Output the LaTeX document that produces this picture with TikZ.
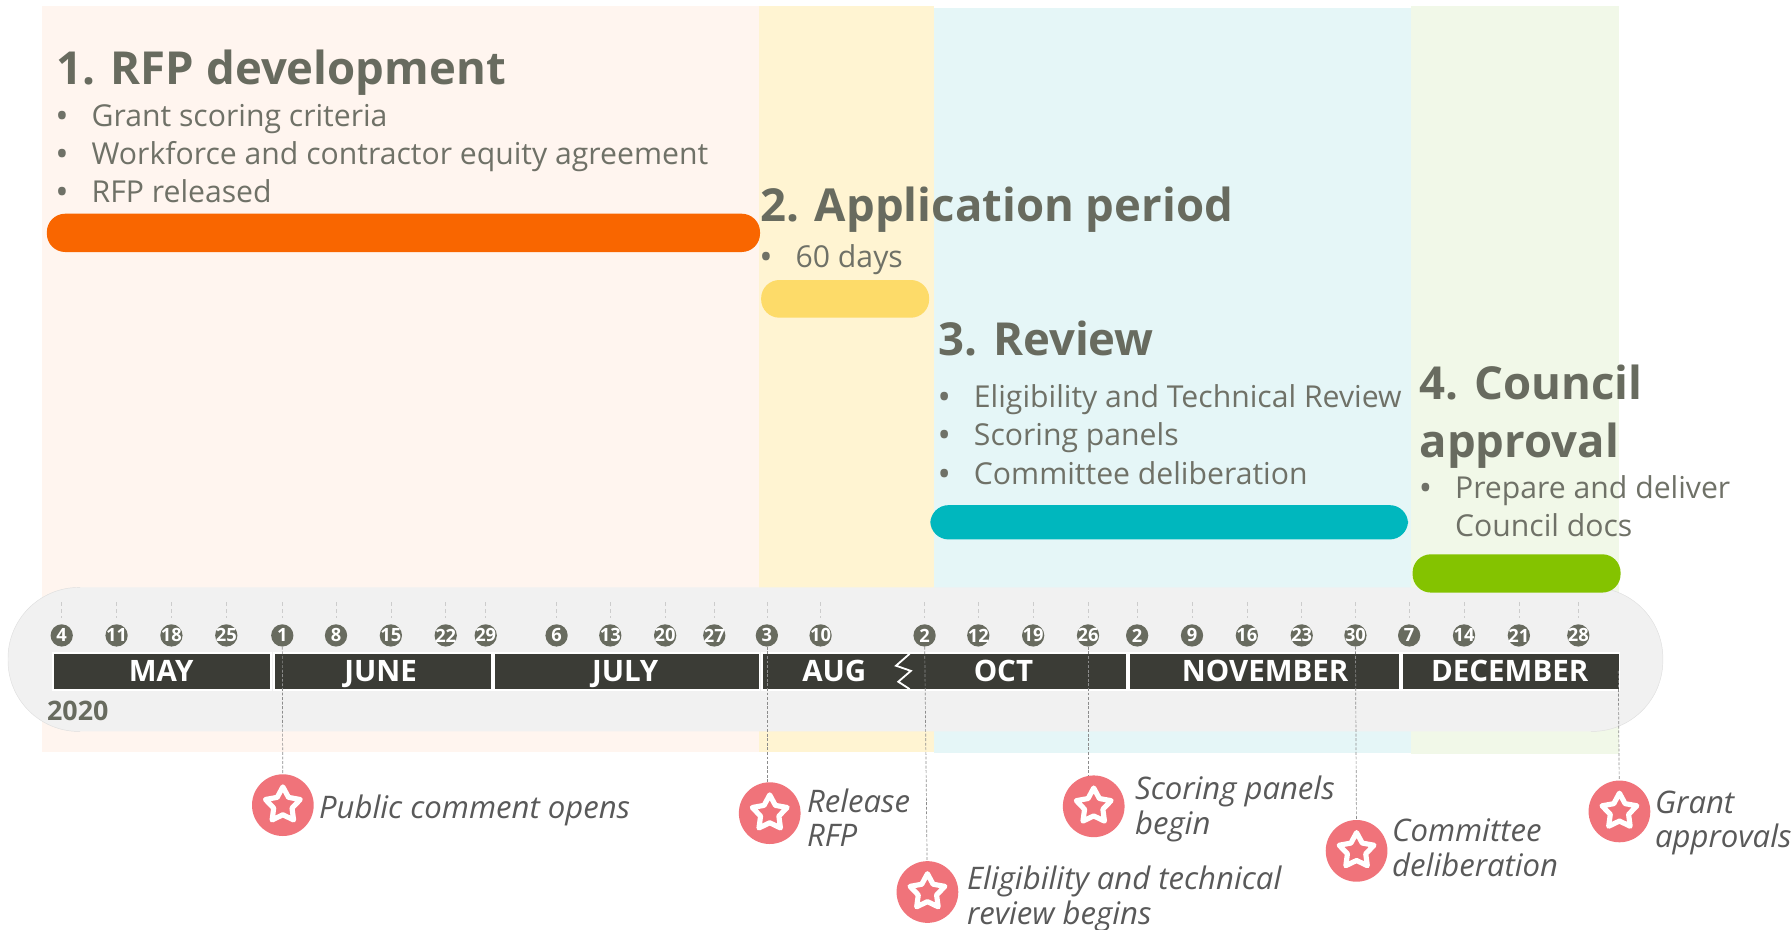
\documentclass[tikz,border=0pt]{standalone}
\usepackage{fontspec}
\setmainfont{Open Sans}
\usetikzlibrary{shapes.geometric}

\definecolor{bandpink}{HTML}{FFF5EF}
\definecolor{bandyellow}{HTML}{FFF4D2}
\definecolor{bandcyan}{HTML}{E5F6F7}
\definecolor{bandgreen}{HTML}{F1F8E8}
\definecolor{barorange}{HTML}{F96600}
\definecolor{baryellow}{HTML}{FDDB69}
\definecolor{barteal}{HTML}{00B7BE}
\definecolor{bargreen}{HTML}{84C300}
\definecolor{pillgray}{HTML}{F1F1F1}
\definecolor{monthdark}{HTML}{3B3C36}
\definecolor{headgray}{HTML}{686B5F}
\definecolor{itemgray}{HTML}{6F7167}
\definecolor{notegray}{HTML}{595959}
\definecolor{starred}{HTML}{F0737A}

\begin{document}
\begin{tikzpicture}[
  x=1pt,
  y=-1pt,
  heading/.style={anchor=base west, inner sep=0pt, text=headgray, font=\fontsize{39.8}{40}\selectfont\bfseries},
  itemline/.style={anchor=base west, inner sep=0pt, text=itemgray, font=\fontsize{26.4}{27}\selectfont},
  itemdot/.style={anchor=base west, inner sep=0pt, text=itemgray, xshift=-0.7pt, yshift=-1.8pt, font=\fontsize{31}{31}\selectfont},
  note/.style={anchor=base west, inner sep=0pt, text=notegray, font=\fontsize{27.2}{27}\selectfont\itshape},
  monthname/.style={anchor=base, inner sep=0pt, text=white, font=\fontsize{25.8}{26}\selectfont\bfseries},
  monthbar/.style={fill=monthdark, draw=white, line width=1.5pt},
  phasebar/.style={rounded corners=16pt},
  datemark/.style={circle, fill=headgray, minimum size=19.5pt, inner sep=0pt, text=white, font=\fontsize{16}{16}\selectfont\bfseries},
  daytick/.style={dashed, gray!40, line width=0.5pt},
  leader/.style={gray!90, line width=0.6pt, dash pattern=on 2.5pt off 1.5pt},
  milestone/.style={circle, fill=starred, minimum size=54pt, inner sep=0pt,
    path picture={\node[star, star points=5, star point ratio=1.9, draw=white, line width=4.5pt, line join=round, minimum size=32pt, inner sep=0pt]
      at (path picture bounding box.center) {};}}
]

\useasboundingbox (0,0) rectangle (1568,813.7);

% Phase bands
\fill[bandpink] (37,5) rectangle (664,658);
\fill[bandyellow] (664,5) rectangle (817,658);
\fill[bandcyan] (817,7) rectangle (1235,659);
\fill[bandgreen] (1235,5) rectangle (1417,660);

% Year pill
\fill[pillgray, rounded corners=62pt] (7,514) rectangle (1455,640);
\draw[gray!25, line width=0.4pt, rounded corners=62pt] (70,514) -- (7,514) -- (7,640) -- (70,640);
\draw[gray!25, line width=0.4pt, rounded corners=62pt] (1392,514) -- (1455,514) -- (1455,640) -- (1392,640);

% Phase bars
\fill[barorange, phasebar] (41,187) rectangle (665,220.5);
\fill[baryellow, phasebar] (666,245) rectangle (813,278);
\fill[barteal, phasebar] (814,442) rectangle (1232,472);
\fill[bargreen, phasebar] (1236,485) rectangle (1418,518.5);

% Month bars
\foreach \xa/\xb in {46.5/237, 240/430.5, 432/664.5, 666.5/986, 988/1225, 1227/1417}
  \draw[monthbar] (\xa,571.5) rectangle (\xb,603.5);
\draw[white, line width=1.6pt] (796,572) -- (784,582.5) -- (797,587) -- (786,596.5) -- (796,603);

\foreach \x/\mname/\mtext in {141/may/MAY, 333/june/JUNE, 547/july/JULY, 730/aug/AUG, 878/oct/OCT, 1107/nov/NOVEMBER, 1321/dec/DECEMBER}
  \node[monthname] (\mname) at (\x,596.5) {\mtext};
\node[anchor=base west, inner sep=0pt, text=headgray, font=\fontsize{23.5}{24}\selectfont\bfseries] (year) at (41,630.5) {2020};

% Dates
\foreach \x/\dnum in {54/4, 102/11, 150/18, 198/25, 247/1, 294/8, 342/15, 390/22, 425/29,
    487/6, 534/13, 582/20, 625/27, 671/3, 718/10, 809/2, 856/12, 904/19, 952/26,
    995/2, 1043/9, 1091/16, 1139/23, 1186/30, 1233/7, 1281/14, 1329/21, 1381/28} {
  \draw[daytick] (\x,527) -- (\x,541);
  \node[datemark] (d\x) at (\x,556) {\makebox[0pt]{\dnum}};
}

% Milestones
\node[milestone] (public) at (247.5,704.5) {};
\node[milestone] (release) at (673.5,711.5) {};
\node[milestone] (eligible) at (811.5,780.5) {};
\node[milestone] (scoring) at (957,705.5) {};
\node[milestone] (committee) at (1187,744.5) {};
\node[milestone] (grant) at (1417,710) {};
\coordinate (dend) at (1416,587);

\draw[leader] (d247) -- (public);
\draw[leader] (d671.south) -- (d671 |- release.north);
\draw[leader] (d809) -- (eligible);
\draw[leader] (d952.south) -- (d952 |- scoring.north);
\draw[leader] (d1186) -- (committee);
\draw[leader] (dend) -- (grant);

\node[note] (publicA) at (279,716) {Public comment opens};
\node[note] (releaseA) at (706,710.5) {Release};
\node[note] (releaseB) at (706,740.5) {RFP};
\node[note] (eligibleA) at (846,778.5) {Eligibility and technical};
\node[note] (eligibleB) at (846,808.5) {review begins};
\node[note] (scoringA) at (993,699.5) {Scoring panels};
\node[note] (scoringB) at (993,730.5) {begin};
\node[note] (committeeA) at (1218,736.5) {Committee};
\node[note] (committeeB) at (1218,766.5) {deliberation};
\node[note] (grantA) at (1448,711.5) {Grant};
\node[note] (grantB) at (1448,741.5) {approvals};

% Phase 1
\node[heading] (rfp) at (49,73.5) {1. RFP development};
\foreach \ypos/\itemname/\itemtext in {110.5/rfpa/Grant scoring criteria, 143.5/rfpb/Workforce and contractor equity agreement, 177/rfpc/RFP released} {
  \node[itemline] (\itemname) at (80,\ypos) {\itemtext};
  \node[itemdot] (\itemname dot) at (49,\ypos) {•};
}

% Phase 2
\node[heading] (application) at (665,193.5) {2. Application period};
\node[itemline] (appa) at (696,234) {60 days};
\node[itemdot] (appadot) at (665,234) {•};

% Phase 3
\node[heading] (review) at (821,311) {3. Review};
\foreach \ypos/\itemname/\itemtext in {356.5/reviewa/Eligibility and Technical Review, 390/reviewb/Scoring panels, 424/reviewc/Committee deliberation} {
  \node[itemline] (\itemname) at (852,\ypos) {\itemtext};
  \node[itemdot] (\itemname dot) at (821,\ypos) {•};
}

% Phase 4
\node[heading] (council) at (1242,349.5) {4. Council};
\node[heading] (approval) at (1242,400) {approval};
\node[itemline] (councila) at (1273,436) {Prepare and deliver};
\node[itemline] (councilb) at (1273,469.5) {Council docs};
\node[itemdot] (councildot) at (1242,436) {•};

\end{tikzpicture}
\end{document}
